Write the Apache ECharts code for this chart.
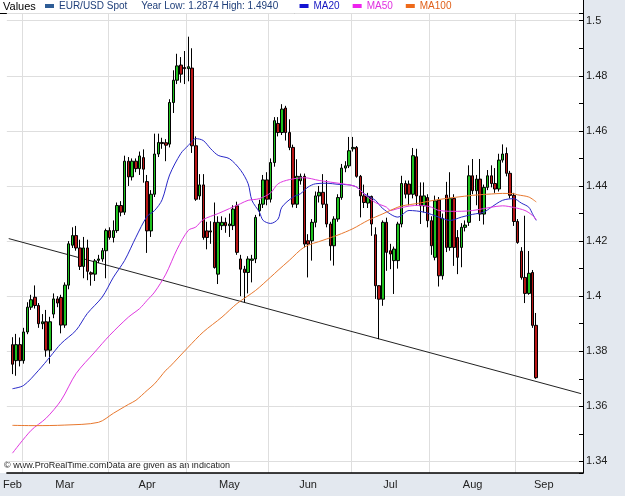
<!DOCTYPE html>
<html>
<head>
<meta charset="utf-8">
<script src="https://cdn.jsdelivr.net/npm/echarts@6/dist/echarts.min.js"></script>
<style>
html, body { margin: 0; padding: 0; background: #fff; }
#main { width: 625px; height: 496px; }
</style>
</head>
<body>
<div id="main"></div>
<script>
// slots = trading days on the x axis, slot 0 = 23 Feb
var slotCount = 154;
var firstSlot = 1;
var monthNames = ['Feb', 'Mar', 'Apr', 'May', 'Jun', 'Jul', 'Aug', 'Sep'];
var monthLabelSlots = [1, 15, 37, 59, 80, 102, 124, 143];
var monthStartSlots = [4, 27, 48, 70, 92, 113, 136];

var openVals = [
  1.3824, 1.3766, 1.3824, 1.3766, 1.3870, 1.3960, 1.3996, 1.3966, 1.3900, 1.3907,
  1.3804, 1.3935, 1.3990, 1.3995, 1.3895, 1.4040, 1.4185, 1.4220, 1.4175, 1.4108,
  1.4175, 1.4085, 1.4080, 1.4130, 1.4135, 1.4165, 1.4238, 1.4213, 1.4238, 1.4329,
  1.4305, 1.4490, 1.4433, 1.4490, 1.4463, 1.4503, 1.4416, 1.4237, 1.4370, 1.4516,
  1.4558, 1.4557, 1.4552, 1.4703, 1.4784, 1.4839, 1.4830, 1.4826, 1.4828, 1.4546,
  1.4364, 1.4404, 1.4237, 1.4237, 1.4268, 1.4080, 1.4256, 1.4268, 1.4256, 1.4256,
  1.4328, 1.4135, 1.4098, 1.4086, 1.4130, 1.4135, 1.4310, 1.4334, 1.4422, 1.4352,
  1.4485, 1.4627, 1.4594, 1.4683, 1.4594, 1.4540, 1.4334, 1.4419, 1.4435, 1.4201,
  1.4201, 1.4268, 1.4364, 1.4377, 1.4334, 1.4262, 1.4183, 1.4280, 1.4358, 1.4465,
  1.4473, 1.4535, 1.4540, 1.4435, 1.4364, 1.4338, 1.4362, 1.4223, 1.4038, 1.3989,
  1.4268, 1.4165, 1.4129, 1.4129, 1.4262, 1.4409, 1.4407, 1.4370, 1.4506, 1.4364,
  1.4328, 1.4358, 1.4274, 1.4141, 1.4349, 1.4074, 1.4367, 1.4177, 1.4355, 1.4213,
  1.4177, 1.4250, 1.4268, 1.4437, 1.4383, 1.4425, 1.4298, 1.4395, 1.4437, 1.4409,
  1.4389, 1.4494, 1.4518, 1.4446, 1.4366, 1.4271, 1.4163, 1.4068, 1.4010, 1.4086,
  1.3894
];
var closeVals = [
  1.3753, 1.3824, 1.3766, 1.3870, 1.3960, 1.3987, 1.3966, 1.3900, 1.3907, 1.3804,
  1.3907, 1.3990, 1.3975, 1.3895, 1.4040, 1.4190, 1.4220, 1.4175, 1.4108, 1.4175,
  1.4090, 1.4080, 1.4128, 1.4135, 1.4165, 1.4238, 1.4213, 1.4238, 1.4329, 1.4305,
  1.4490, 1.4433, 1.4490, 1.4463, 1.4509, 1.4461, 1.4237, 1.4370, 1.4516, 1.4558,
  1.4554, 1.4548, 1.4703, 1.4784, 1.4836, 1.4806, 1.4826, 1.4833, 1.4546, 1.4352,
  1.4404, 1.4213, 1.4213, 1.4233, 1.4104, 1.4268, 1.4268, 1.4256, 1.4262, 1.4316,
  1.4159, 1.4098, 1.4086, 1.4135, 1.4135, 1.4286, 1.4334, 1.4422, 1.4352, 1.4485,
  1.4637, 1.4594, 1.4679, 1.4594, 1.4540, 1.4334, 1.4435, 1.4435, 1.4189, 1.4189,
  1.4268, 1.4364, 1.4377, 1.4334, 1.4262, 1.4183, 1.4280, 1.4358, 1.4465, 1.4473,
  1.4528, 1.4540, 1.4435, 1.4364, 1.4340, 1.4362, 1.4262, 1.4038, 1.3989, 1.4268,
  1.4159, 1.4153, 1.4171, 1.4262, 1.4409, 1.4370, 1.4370, 1.4510, 1.4364, 1.4328,
  1.4364, 1.4274, 1.4183, 1.4346, 1.4074, 1.4282, 1.4177, 1.4355, 1.4177, 1.4141,
  1.4250, 1.4258, 1.4437, 1.4383, 1.4425, 1.4298, 1.4395, 1.4437, 1.4409, 1.4389,
  1.4494, 1.4516, 1.4446, 1.4366, 1.4271, 1.4195, 1.4068, 1.4010, 1.4083, 1.3894,
  1.3704
];
var lowVals = [
  1.3717, 1.3711, 1.3745, 1.3755, 1.3862, 1.3950, 1.3955, 1.3885, 1.3880, 1.3780,
  1.3755, 1.3920, 1.3960, 1.3865, 1.3885, 1.4025, 1.4175, 1.4165, 1.4095, 1.4065,
  1.4058, 1.4038, 1.4055, 1.4120, 1.4125, 1.4065, 1.4205, 1.4195, 1.4230, 1.4290,
  1.4295, 1.4400, 1.4420, 1.4450, 1.4440, 1.4412, 1.4157, 1.4215, 1.4360, 1.4505,
  1.4535, 1.4490, 1.4540, 1.4665, 1.4770, 1.4775, 1.4770, 1.4780, 1.4520, 1.4346,
  1.4350, 1.4205, 1.4170, 1.4190, 1.4100, 1.4044, 1.4240, 1.4230, 1.4215, 1.4240,
  1.4150, 1.4000, 1.3977, 1.4010, 1.4050, 1.4120, 1.4290, 1.4320, 1.4330, 1.4340,
  1.4470, 1.4580, 1.4585, 1.4565, 1.4530, 1.4322, 1.4320, 1.4405, 1.4177, 1.4068,
  1.4129, 1.4250, 1.4340, 1.4320, 1.4250, 1.4129, 1.4111, 1.4270, 1.4350, 1.4450,
  1.4465, 1.4525, 1.4430, 1.4286, 1.4320, 1.4320, 1.4219, 1.3990, 1.3844, 1.3965,
  1.4092, 1.4098, 1.4008, 1.4100, 1.4250, 1.4355, 1.4330, 1.4355, 1.4328, 1.4262,
  1.4304, 1.4250, 1.4150, 1.4130, 1.4035, 1.4060, 1.4160, 1.4165, 1.4110, 1.4080,
  1.4105, 1.4235, 1.4255, 1.4370, 1.4330, 1.4273, 1.4260, 1.4385, 1.4395, 1.4375,
  1.4380, 1.4485, 1.4435, 1.4355, 1.4255, 1.4190, 1.4060, 1.3975, 1.4005, 1.3885,
  1.3700
];
var highVals = [
  1.3851, 1.3863, 1.3850, 1.3885, 1.3978, 1.4005, 1.4039, 1.3975, 1.3935, 1.3950,
  1.3925, 1.4010, 1.4000, 1.4005, 1.4050, 1.4200, 1.4250, 1.4255, 1.4205, 1.4215,
  1.4205, 1.4090, 1.4135, 1.4150, 1.4175, 1.4245, 1.4250, 1.4275, 1.4340, 1.4345,
  1.4510, 1.4505, 1.4500, 1.4500, 1.4525, 1.4533, 1.4440, 1.4385, 1.4590, 1.4590,
  1.4575, 1.4570, 1.4715, 1.4820, 1.4880, 1.4868, 1.4890, 1.4942, 1.4900, 1.4580,
  1.4443, 1.4443, 1.4270, 1.4272, 1.4340, 1.4290, 1.4290, 1.4285, 1.4300, 1.4330,
  1.4343, 1.4150, 1.4110, 1.4145, 1.4150, 1.4295, 1.4350, 1.4440, 1.4450, 1.4500,
  1.4650, 1.4650, 1.4697, 1.4691, 1.4642, 1.4550, 1.4497, 1.4445, 1.4445, 1.4225,
  1.4280, 1.4380, 1.4400, 1.4443, 1.4421, 1.4270, 1.4290, 1.4370, 1.4480, 1.4490,
  1.4578, 1.4578, 1.4545, 1.4440, 1.4405, 1.4375, 1.4365, 1.4250, 1.4040, 1.4275,
  1.4285, 1.4190, 1.4180, 1.4270, 1.4437, 1.4420, 1.4420, 1.4538, 1.4535, 1.4413,
  1.4413, 1.4370, 1.4290, 1.4365, 1.4360, 1.4300, 1.4415, 1.4450, 1.4370, 1.4240,
  1.4265, 1.4275, 1.4475, 1.4498, 1.4440, 1.4498, 1.4405, 1.4458, 1.4475, 1.4465,
  1.4517, 1.4551, 1.4540, 1.4455, 1.4375, 1.4280, 1.4178, 1.4292, 1.4164, 1.4095,
  1.3939
];

// moving averages as [slot, value]
var ma20 = [[1,1.3664],[4,1.3676],[8,1.3731],[11,1.3779],[14,1.3828],[18,1.3876],[21,1.3937],[25,1.3997],[28,1.4069],[31,1.4130],[34,1.4214],[37,1.4290],[39,1.4311],[41,1.4350],[43,1.4440],[46,1.4518],[48,1.4547],[50,1.4572],[52,1.4565],[54,1.4535],[56,1.4511],[59,1.4499],[62,1.4457],[64,1.4408],[65,1.4348],[67,1.4305],[68,1.4275],[70,1.4264],[72,1.4280],[73,1.4323],[76,1.4360],[78,1.4372],[80,1.4396],[82,1.4408],[85,1.4410],[88,1.4406],[91,1.4404],[93,1.4396],[95,1.4372],[98,1.4348],[100,1.4318],[104,1.4287],[107,1.4311],[111,1.4305],[115,1.4287],[118,1.4275],[121,1.4287],[124,1.4297],[127,1.4305],[129,1.4323],[132,1.4348],[135,1.4354],[137,1.4338],[139,1.4323],[140,1.4299],[141,1.4275]];
var ma50 = [[1,1.3430],[6,1.3513],[10,1.3557],[14,1.3622],[18,1.3719],[23,1.3797],[27,1.3858],[32,1.3924],[35,1.3955],[37,1.3985],[39,1.4015],[42,1.4080],[45,1.4170],[48,1.4239],[50,1.4251],[52,1.4278],[56,1.4300],[59,1.4318],[62,1.4336],[64,1.4348],[67,1.4354],[70,1.4375],[72,1.4408],[75,1.4423],[79,1.4430],[83,1.4420],[86,1.4414],[91,1.4404],[93,1.4396],[95,1.4370],[98,1.4340],[101,1.4323],[102,1.4311],[104,1.4318],[107,1.4327],[110,1.4330],[113,1.4323],[115,1.4311],[120,1.4308],[124,1.4311],[129,1.4323],[132,1.4328],[135,1.4322],[138,1.4311],[140,1.4293],[141,1.4277]];
var ma100 = [[1,1.3531],[7,1.3530],[15,1.3532],[24,1.3542],[28,1.3575],[32,1.3607],[34,1.3622],[37,1.3658],[39,1.3682],[42,1.3731],[43,1.3743],[48,1.3815],[52,1.3870],[57,1.3924],[61,1.3973],[66,1.4021],[70,1.4069],[72,1.4094],[75,1.4130],[79,1.4178],[84,1.4203],[88,1.4222],[92,1.4245],[96,1.4275],[100,1.4299],[104,1.4323],[106,1.4330],[109,1.4336],[115,1.4351],[124,1.4366],[129,1.4371],[132,1.4373],[135,1.4372],[136,1.4368],[139,1.4360],[141,1.4342]];
var trendLine = [[0, 1.4209], [153, 1.3646]];
var lastPrice = 1.3704;
var yearText = 'Year Low: 1.2874 High: 1.4940';

var stripColor = '#e3e8ef';
var font = 'Liberation Sans, Arial, sans-serif';

var categories = [];
for (var i = 0; i < slotCount; i++) categories.push(String(i));
var candles = [];
for (var i = 0; i < firstSlot; i++) candles.push('-');
for (var k = 0; k < openVals.length; k++) {
  candles.push([openVals[k], closeVals[k], lowVals[k], highVals[k]]);
}

function isMonthStart(idx) { return monthStartSlots.indexOf(idx) >= 0; }

var myChart = echarts.init(document.getElementById('main'));
var option = {
  animation: false,
  backgroundColor: '#fff',
  textStyle: { fontFamily: font },
  grid: { left: 2, right: 42, top: 13, bottom: 23 },
  legend: {
    left: 45, top: 1, padding: 0,
    icon: 'rect', itemWidth: 9, itemHeight: 4, itemGap: 13,
    selectedMode: false,
    textStyle: { fontSize: 10, fontFamily: font },
    formatter: function (name) {
      return name === 'EUR/USD Spot' ? name + '     ' + yearText + '   ' : name;
    },
    data: [
      { name: 'EUR/USD Spot', itemStyle: { color: '#2f5d96', borderWidth: 0 }, textStyle: { color: '#1f3f7a' } },
      { name: 'MA20', itemStyle: { color: '#1414d2' }, textStyle: { color: '#1414c0' } },
      { name: 'MA50', itemStyle: { color: '#ee22ee' }, textStyle: { color: '#e030e0' } },
      { name: 'MA100', itemStyle: { color: '#ee6a1a' }, textStyle: { color: '#e0601a' } }
    ]
  },
  xAxis: {
    type: 'category',
    data: categories,
    boundaryGap: true,
    axisLine: { lineStyle: { color: '#000', width: 1.5 } },
    axisTick: { interval: isMonthStart, length: 3, lineStyle: { color: '#000' } },
    axisLabel: {
      interval: function (idx) { return monthLabelSlots.indexOf(idx) >= 0; },
      formatter: function (val) { return monthNames[monthLabelSlots.indexOf(Number(val))]; },
      color: '#222', fontSize: 11, margin: 6
    },
    splitLine: { show: true, interval: isMonthStart, lineStyle: { color: '#dedede', width: 1 } }
  },
  yAxis: {
    type: 'value',
    position: 'right',
    min: 1.3358, max: 1.5028, splitNumber: 8,
    axisLine: { show: true, lineStyle: { color: '#000', width: 1 } },
    axisTick: { show: true, inside: true, length: 4, lineStyle: { color: '#000' } },
    minorTick: { show: true, splitNumber: 2, length: 4, lineStyle: { color: '#000' } },
    axisLabel: {
      color: '#222', fontSize: 11, margin: 3,
      formatter: function (v) {
        var r = Math.round(v * 50);
        return Math.abs(v * 50 - r) < 1e-6 ? String(+(r / 50).toFixed(2)) : '';
      }
    },
    splitLine: { lineStyle: { color: '#dedede', width: 1 } }
  },
  series: [
    {
      name: 'trend', type: 'line', data: trendLine, showSymbol: false,
      lineStyle: { color: '#222', width: 1 }, z: 1
    },
    {
      name: 'EUR/USD Spot', type: 'candlestick', data: candles, barWidth: 3,
      itemStyle: { color: '#1fc21f', color0: '#b81616', borderColor: '#000', borderColor0: '#000', borderWidth: 1 },
      markLine: {
        silent: true, symbol: 'none',
        lineStyle: { opacity: 0 },
        data: [{ yAxis: lastPrice }],
        label: {
          position: 'end', distance: 2, formatter: String(lastPrice),
          backgroundColor: '#ffd000', borderColor: '#000', borderWidth: 1,
          padding: [2, 2, 1, 2], color: '#000', fontSize: 11
        }
      }
    },
    { name: 'MA20', type: 'line', data: ma20, showSymbol: false, smooth: 0.3, lineStyle: { color: '#2828c8', width: 1 } },
    { name: 'MA50', type: 'line', data: ma50, showSymbol: false, smooth: 0.3, lineStyle: { color: '#e038e0', width: 1 } },
    { name: 'MA100', type: 'line', data: ma100, showSymbol: false, smooth: 0.3, lineStyle: { color: '#e8782e', width: 1 } }
  ],
  graphic: [
    { type: 'rect', z: -10, silent: true, shape: { x: 583, y: 0, width: 42, height: 496 }, style: { fill: stripColor } },
    { type: 'rect', z: -10, silent: true, shape: { x: 0, y: 473, width: 625, height: 23 }, style: { fill: stripColor } },
    { type: 'line', silent: true, shape: { x1: 0, y1: 13.5, x2: 583, y2: 13.5 }, style: { stroke: '#000', lineWidth: 1 } },
    { type: 'line', silent: true, shape: { x1: 583.5, y1: 0, x2: 583.5, y2: 14 }, style: { stroke: '#000', lineWidth: 1 } },
    { type: 'text', silent: true, left: 3, top: 1, style: { text: 'Values', fill: '#000', font: '11px ' + font } },
    { type: 'text', silent: true, left: 4, top: 461, style: { text: '\u00a9 www.ProRealTime.comData are given as an indication', fill: '#222', font: '9px ' + font } }
  ]
};
myChart.setOption(option);
</script>
</body>
</html>
